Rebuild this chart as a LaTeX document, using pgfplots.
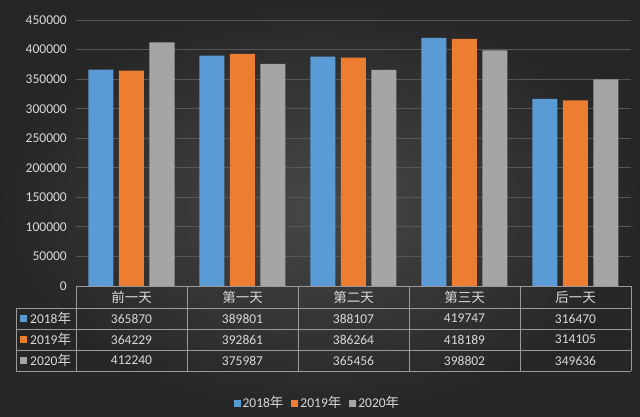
\documentclass[border=0pt]{standalone}
\usepackage{pgfplots}
\usepackage{pgfplotstable}
\pgfplotsset{compat=1.18}
\usepackage{fontspec}
\setmainfont{Carlito}
\newfontfamily\cjk{Noto Sans CJK SC}
\definecolor{bgin}{HTML}{474747}
\definecolor{bgout}{HTML}{262626}
\definecolor{c18}{HTML}{5B9BD5}
\definecolor{c19}{HTML}{ED7D31}
\definecolor{c20}{HTML}{A5A5A5}
\definecolor{txt}{HTML}{D9D9D9}
\definecolor{gridc}{HTML}{565656}
\definecolor{tbl}{HTML}{9A9A9A}

% day index, 2018, 2019, 2020
\pgfplotstableread{
x y18 y19 y20
0 365870 364229 412240
1 389801 392861 375987
2 388107 386264 365456
3 419747 418189 398802
4 316470 314105 349636
}\visitors

\newcommand\fs{\fontsize{13.5}{16}\selectfont}

\begin{document}
\begin{tikzpicture}[x=1pt,y=1pt]
\shade[inner color=bgin,outer color=bgout] (0,0) rectangle (640,416);
\begin{axis}[
  at={(76pt,130pt)}, anchor=south west,
  scale only axis, width=555pt, height=266pt,
  xmin=-0.5, xmax=4.5, ymin=0, ymax=450000,
  ytick distance=50000, xtick=\empty,
  scaled y ticks=false,
  ybar=5.5pt, bar width=25pt,
  axis line style={draw=none},
  major tick length=0pt,
  ymajorgrids, grid style={gridc, line width=0.8pt},
  yticklabel style={font=\fs, text=txt, inner sep=0pt, xshift=-9pt,
    /pgf/number format/fixed, /pgf/number format/1000 sep={},
    /pgf/number format/assume math mode=true},
  clip=false,
  legend columns=3,
  legend style={at={(0.435,-0.44)}, anchor=center, draw=none, fill=none,
    text=txt, font=\fs,
    /tikz/every even column/.append style={column sep=6pt}},
  legend image code/.code={\fill[#1] (0pt,-3.5pt) rectangle (7pt,3.5pt);},
]
\addplot[fill=c18, draw=none] table[x=x,y=y18] {\visitors};
\addlegendentry{2018{\cjk 年}}
\addplot[fill=c19, draw=none] table[x=x,y=y19] {\visitors};
\addlegendentry{2019{\cjk 年}}
\addplot[fill=c20, draw=none] table[x=x,y=y20] {\visitors};
\addlegendentry{2020{\cjk 年}}
\end{axis}

% data table under the plot
\begin{scope}[draw=tbl, line width=0.8pt]
\draw (76,130) -- (631,130);
\foreach \yy in {108,87,66,45} \draw (16,\yy) -- (631,\yy);
\draw (16,108) -- (16,45);
\foreach \xx in {76,187,298,409,520,631} \draw (\xx,130) -- (\xx,45);
\end{scope}

\begin{scope}[text=txt, font=\fs]
\foreach \xx/\cat/\a/\b/\c in {
  131.5/前一天/365870/364229/412240,
  242.5/第一天/389801/392861/375987,
  353.5/第二天/388107/386264/365456,
  464.5/第三天/419747/418189/398802,
  575.5/后一天/316470/314105/349636} {
  \node at (\xx,119) {\cjk\cat};
  \node at (\xx,97.5) {\a};
  \node at (\xx,76.5) {\b};
  \node at (\xx,55.5) {\c};
}
\foreach \yy/\col/\yr in {97.5/c18/2018, 76.5/c19/2019, 55.5/c20/2020} {
  \fill[\col] (20,\yy-3.5) rectangle (27,\yy+3.5);
  \node[anchor=west, inner sep=0pt] at (30,\yy) {\yr{\cjk 年}};
}
\end{scope}
\end{tikzpicture}
\end{document}
